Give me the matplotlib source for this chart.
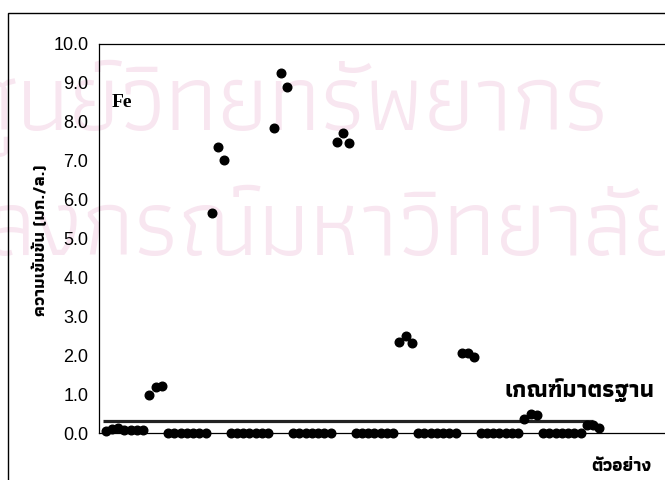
import matplotlib
matplotlib.use("Agg")
import matplotlib.pyplot as plt
from matplotlib.patches import Rectangle

# ค่าเหล็ก (Fe) ของตัวอย่าง 80 ตัวอย่าง (8 จุด x 10 ตัวอย่าง)
samples = list(range(1, 81))
fe = [0.05, 0.10, 0.12, 0.08, 0.07, 0.07, 0.07, 0.98, 1.17, 1.21,
      0, 0, 0, 0, 0, 0, 0, 5.66, 7.36, 7.02,
      0, 0, 0, 0, 0, 0, 0, 7.85, 9.25, 8.90,
      0, 0, 0, 0, 0, 0, 0, 7.49, 7.72, 7.45,
      0, 0, 0, 0, 0, 0, 0, 2.35, 2.50, 2.31,
      0, 0, 0, 0, 0, 0, 0, 2.05, 2.06, 1.95,
      0, 0, 0, 0, 0, 0, 0, 0.37, 0.48, 0.47,
      0, 0, 0, 0, 0, 0, 0, 0.20, 0.20, 0.13]
standard = 0.3
std_x = [0.5, 79]
yticks = [0, 1, 2, 3, 4, 5, 6, 7, 8, 9, 10]

thai = ['Athiti', 'Sarabun', 'Noto Sans Thai', 'DejaVu Sans']

fig = plt.figure(figsize=(6.65, 4.8), dpi=100)

# ลายน้ำ (อยู่หลังกราฟ)
wm = '#f8e6f0'
fig.text(-0.06, 0.73, 'ศูนย์วิทยทรัพยากร', fontsize=68, color=wm,
         family=thai, va='baseline', zorder=-1)
fig.text(-0.24, 0.47, 'จุฬาลงกรณ์มหาวิทยาลัย', fontsize=68, color=wm,
         family=thai, va='baseline', zorder=-1)

# กรอบนอก
fig.patches.append(Rectangle((8 / 665, -0.1), 1.2, 1.1 - 13 / 480, transform=fig.transFigure,
                             fill=False, edgecolor='black', linewidth=1.0))

ax = fig.add_axes([99.4 / 665, 47 / 480, 625 / 665, 389 / 480])
ax.patch.set_alpha(0)
ax.set_xlim(0, 100)
ax.set_ylim(0, 10)
ax.set_yticks(yticks)
ax.set_yticklabels(['%.1f' % v for v in yticks], family='Liberation Sans', fontsize=13)
ax.set_xticks([])
ax.tick_params(axis='y', length=0, pad=8)
for s in ['left', 'top', 'bottom']:
    ax.spines[s].set_linewidth(0.9)
ax.spines['right'].set_visible(False)

ax.plot(std_x, [standard, standard], color='#222222', linewidth=2.3, solid_capstyle='butt')
ax.plot(samples, fe, 'o', color='black', markersize=6.2, clip_on=False, zorder=3)

fig.text(112 / 665, 1 - 107 / 480, 'Fe', family='Liberation Serif', fontweight='bold',
         fontsize=14, va='baseline')
fig.text(654 / 665, 1 - 397 / 480, 'เกณฑ์มาตรฐาน', family=thai, fontweight='bold',
         fontsize=17, ha='right', va='baseline')
fig.text(651 / 665, 1 - 471 / 480, 'ตัวอย่าง', family=thai, fontweight='bold',
         fontsize=13, ha='right', va='baseline')
fig.text(40 / 665, 1 - 240 / 480, 'ความเข้มข้น (มก./ล.)', family=thai, fontweight='bold',
         fontsize=12.5, rotation=90, ha='center', va='center')

fig.savefig('out.png', dpi=100)
